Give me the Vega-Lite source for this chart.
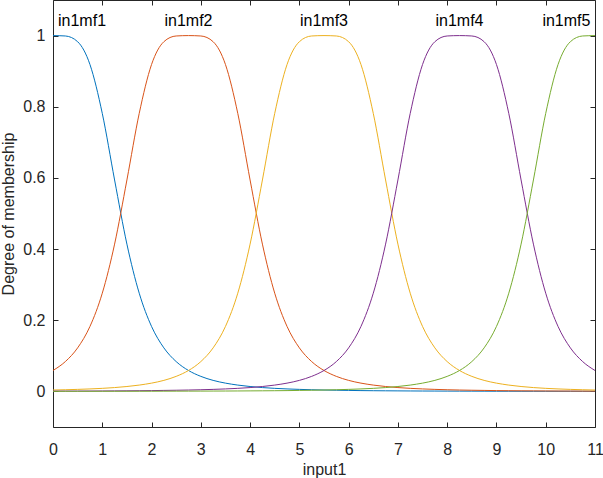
{
  "$schema": "https://vega.github.io/schema/vega-lite/v6.json",
  "width": 542,
  "height": 427,
  "autosize": "none",
  "padding": {"left": 53, "top": 0, "right": 8, "bottom": 51},
  "background": "white",
  "config": {
    "view": {"stroke": null},
    "font": "Liberation Sans",
    "axis": {
      "grid": false,
      "domainColor": "#262626",
      "tickColor": "#262626",
      "labelColor": "#262626",
      "titleColor": "#262626",
      "labelFont": "Liberation Sans",
      "titleFont": "Liberation Sans",
      "labelFontSize": 16,
      "titleFontSize": 16,
      "titleFontWeight": "normal",
      "labelFlush": false,
      "labelOverlap": false,
      "tickSize": -5,
      "tickWidth": 1,
      "domainWidth": 1
    }
  },
  "layer": [
    {
      "data": {"values": [
        {"x":0,"m":"in1mf1","v":1},{"x":0.25,"m":"in1mf1","v":0.9989},{"x":0.5,"m":"in1mf1","v":0.9828},{"x":0.75,"m":"in1mf1","v":0.9187},{"x":1,"m":"in1mf1","v":0.7814},{"x":1.25,"m":"in1mf1","v":0.5942},{"x":1.5,"m":"in1mf1","v":0.4139},{"x":1.75,"m":"in1mf1","v":0.276},{"x":2,"m":"in1mf1","v":0.1826},{"x":2.25,"m":"in1mf1","v":0.1224},{"x":2.5,"m":"in1mf1","v":0.0838},{"x":2.75,"m":"in1mf1","v":0.0588},{"x":3,"m":"in1mf1","v":0.0423},{"x":3.25,"m":"in1mf1","v":0.031},{"x":3.5,"m":"in1mf1","v":0.0233},{"x":3.75,"m":"in1mf1","v":0.0178},{"x":4,"m":"in1mf1","v":0.0138},{"x":4.25,"m":"in1mf1","v":0.0108},{"x":4.5,"m":"in1mf1","v":0.0086},{"x":4.75,"m":"in1mf1","v":0.007},{"x":5,"m":"in1mf1","v":0.0057},{"x":5.25,"m":"in1mf1","v":0.0047},{"x":5.5,"m":"in1mf1","v":0.0039},{"x":5.75,"m":"in1mf1","v":0.0033},{"x":6,"m":"in1mf1","v":0.0028},{"x":6.25,"m":"in1mf1","v":0.0023},{"x":6.5,"m":"in1mf1","v":0.002},{"x":6.75,"m":"in1mf1","v":0.0017},{"x":7,"m":"in1mf1","v":0.0015},{"x":7.25,"m":"in1mf1","v":0.0013},{"x":7.5,"m":"in1mf1","v":0.0011},{"x":7.75,"m":"in1mf1","v":0.001},{"x":8,"m":"in1mf1","v":0.0009},{"x":8.25,"m":"in1mf1","v":0.0008},{"x":8.5,"m":"in1mf1","v":0.0007},{"x":8.75,"m":"in1mf1","v":0.0006},{"x":9,"m":"in1mf1","v":0.0005},{"x":9.25,"m":"in1mf1","v":0.0005},{"x":9.5,"m":"in1mf1","v":0.0004},{"x":9.75,"m":"in1mf1","v":0.0004},{"x":10,"m":"in1mf1","v":0.0004},{"x":10.25,"m":"in1mf1","v":0.0003},{"x":10.5,"m":"in1mf1","v":0.0003},{"x":10.75,"m":"in1mf1","v":0.0003},{"x":11,"m":"in1mf1","v":0.0002},
        {"x":0,"m":"in1mf2","v":0.0588},{"x":0.25,"m":"in1mf2","v":0.0838},{"x":0.5,"m":"in1mf2","v":0.1224},{"x":0.75,"m":"in1mf2","v":0.1826},{"x":1,"m":"in1mf2","v":0.276},{"x":1.25,"m":"in1mf2","v":0.4139},{"x":1.5,"m":"in1mf2","v":0.5942},{"x":1.75,"m":"in1mf2","v":0.7814},{"x":2,"m":"in1mf2","v":0.9187},{"x":2.25,"m":"in1mf2","v":0.9828},{"x":2.5,"m":"in1mf2","v":0.9989},{"x":2.75,"m":"in1mf2","v":1},{"x":3,"m":"in1mf2","v":0.9989},{"x":3.25,"m":"in1mf2","v":0.9828},{"x":3.5,"m":"in1mf2","v":0.9187},{"x":3.75,"m":"in1mf2","v":0.7814},{"x":4,"m":"in1mf2","v":0.5942},{"x":4.25,"m":"in1mf2","v":0.4139},{"x":4.5,"m":"in1mf2","v":0.276},{"x":4.75,"m":"in1mf2","v":0.1826},{"x":5,"m":"in1mf2","v":0.1224},{"x":5.25,"m":"in1mf2","v":0.0838},{"x":5.5,"m":"in1mf2","v":0.0588},{"x":5.75,"m":"in1mf2","v":0.0423},{"x":6,"m":"in1mf2","v":0.031},{"x":6.25,"m":"in1mf2","v":0.0233},{"x":6.5,"m":"in1mf2","v":0.0178},{"x":6.75,"m":"in1mf2","v":0.0138},{"x":7,"m":"in1mf2","v":0.0108},{"x":7.25,"m":"in1mf2","v":0.0086},{"x":7.5,"m":"in1mf2","v":0.007},{"x":7.75,"m":"in1mf2","v":0.0057},{"x":8,"m":"in1mf2","v":0.0047},{"x":8.25,"m":"in1mf2","v":0.0039},{"x":8.5,"m":"in1mf2","v":0.0033},{"x":8.75,"m":"in1mf2","v":0.0028},{"x":9,"m":"in1mf2","v":0.0023},{"x":9.25,"m":"in1mf2","v":0.002},{"x":9.5,"m":"in1mf2","v":0.0017},{"x":9.75,"m":"in1mf2","v":0.0015},{"x":10,"m":"in1mf2","v":0.0013},{"x":10.25,"m":"in1mf2","v":0.0011},{"x":10.5,"m":"in1mf2","v":0.001},{"x":10.75,"m":"in1mf2","v":0.0009},{"x":11,"m":"in1mf2","v":0.0008},
        {"x":0,"m":"in1mf3","v":0.0039},{"x":0.25,"m":"in1mf3","v":0.0047},{"x":0.5,"m":"in1mf3","v":0.0057},{"x":0.75,"m":"in1mf3","v":0.007},{"x":1,"m":"in1mf3","v":0.0086},{"x":1.25,"m":"in1mf3","v":0.0108},{"x":1.5,"m":"in1mf3","v":0.0138},{"x":1.75,"m":"in1mf3","v":0.0178},{"x":2,"m":"in1mf3","v":0.0233},{"x":2.25,"m":"in1mf3","v":0.031},{"x":2.5,"m":"in1mf3","v":0.0423},{"x":2.75,"m":"in1mf3","v":0.0588},{"x":3,"m":"in1mf3","v":0.0838},{"x":3.25,"m":"in1mf3","v":0.1224},{"x":3.5,"m":"in1mf3","v":0.1826},{"x":3.75,"m":"in1mf3","v":0.276},{"x":4,"m":"in1mf3","v":0.4139},{"x":4.25,"m":"in1mf3","v":0.5942},{"x":4.5,"m":"in1mf3","v":0.7814},{"x":4.75,"m":"in1mf3","v":0.9187},{"x":5,"m":"in1mf3","v":0.9828},{"x":5.25,"m":"in1mf3","v":0.9989},{"x":5.5,"m":"in1mf3","v":1},{"x":5.75,"m":"in1mf3","v":0.9989},{"x":6,"m":"in1mf3","v":0.9828},{"x":6.25,"m":"in1mf3","v":0.9187},{"x":6.5,"m":"in1mf3","v":0.7814},{"x":6.75,"m":"in1mf3","v":0.5942},{"x":7,"m":"in1mf3","v":0.4139},{"x":7.25,"m":"in1mf3","v":0.276},{"x":7.5,"m":"in1mf3","v":0.1826},{"x":7.75,"m":"in1mf3","v":0.1224},{"x":8,"m":"in1mf3","v":0.0838},{"x":8.25,"m":"in1mf3","v":0.0588},{"x":8.5,"m":"in1mf3","v":0.0423},{"x":8.75,"m":"in1mf3","v":0.031},{"x":9,"m":"in1mf3","v":0.0233},{"x":9.25,"m":"in1mf3","v":0.0178},{"x":9.5,"m":"in1mf3","v":0.0138},{"x":9.75,"m":"in1mf3","v":0.0108},{"x":10,"m":"in1mf3","v":0.0086},{"x":10.25,"m":"in1mf3","v":0.007},{"x":10.5,"m":"in1mf3","v":0.0057},{"x":10.75,"m":"in1mf3","v":0.0047},{"x":11,"m":"in1mf3","v":0.0039},
        {"x":0,"m":"in1mf4","v":0.0008},{"x":0.25,"m":"in1mf4","v":0.0009},{"x":0.5,"m":"in1mf4","v":0.001},{"x":0.75,"m":"in1mf4","v":0.0011},{"x":1,"m":"in1mf4","v":0.0013},{"x":1.25,"m":"in1mf4","v":0.0015},{"x":1.5,"m":"in1mf4","v":0.0017},{"x":1.75,"m":"in1mf4","v":0.002},{"x":2,"m":"in1mf4","v":0.0023},{"x":2.25,"m":"in1mf4","v":0.0028},{"x":2.5,"m":"in1mf4","v":0.0033},{"x":2.75,"m":"in1mf4","v":0.0039},{"x":3,"m":"in1mf4","v":0.0047},{"x":3.25,"m":"in1mf4","v":0.0057},{"x":3.5,"m":"in1mf4","v":0.007},{"x":3.75,"m":"in1mf4","v":0.0086},{"x":4,"m":"in1mf4","v":0.0108},{"x":4.25,"m":"in1mf4","v":0.0138},{"x":4.5,"m":"in1mf4","v":0.0178},{"x":4.75,"m":"in1mf4","v":0.0233},{"x":5,"m":"in1mf4","v":0.031},{"x":5.25,"m":"in1mf4","v":0.0423},{"x":5.5,"m":"in1mf4","v":0.0588},{"x":5.75,"m":"in1mf4","v":0.0838},{"x":6,"m":"in1mf4","v":0.1224},{"x":6.25,"m":"in1mf4","v":0.1826},{"x":6.5,"m":"in1mf4","v":0.276},{"x":6.75,"m":"in1mf4","v":0.4139},{"x":7,"m":"in1mf4","v":0.5942},{"x":7.25,"m":"in1mf4","v":0.7814},{"x":7.5,"m":"in1mf4","v":0.9187},{"x":7.75,"m":"in1mf4","v":0.9828},{"x":8,"m":"in1mf4","v":0.9989},{"x":8.25,"m":"in1mf4","v":1},{"x":8.5,"m":"in1mf4","v":0.9989},{"x":8.75,"m":"in1mf4","v":0.9828},{"x":9,"m":"in1mf4","v":0.9187},{"x":9.25,"m":"in1mf4","v":0.7814},{"x":9.5,"m":"in1mf4","v":0.5942},{"x":9.75,"m":"in1mf4","v":0.4139},{"x":10,"m":"in1mf4","v":0.276},{"x":10.25,"m":"in1mf4","v":0.1826},{"x":10.5,"m":"in1mf4","v":0.1224},{"x":10.75,"m":"in1mf4","v":0.0838},{"x":11,"m":"in1mf4","v":0.0588},
        {"x":0,"m":"in1mf5","v":0.0002},{"x":0.25,"m":"in1mf5","v":0.0003},{"x":0.5,"m":"in1mf5","v":0.0003},{"x":0.75,"m":"in1mf5","v":0.0003},{"x":1,"m":"in1mf5","v":0.0004},{"x":1.25,"m":"in1mf5","v":0.0004},{"x":1.5,"m":"in1mf5","v":0.0004},{"x":1.75,"m":"in1mf5","v":0.0005},{"x":2,"m":"in1mf5","v":0.0005},{"x":2.25,"m":"in1mf5","v":0.0006},{"x":2.5,"m":"in1mf5","v":0.0007},{"x":2.75,"m":"in1mf5","v":0.0008},{"x":3,"m":"in1mf5","v":0.0009},{"x":3.25,"m":"in1mf5","v":0.001},{"x":3.5,"m":"in1mf5","v":0.0011},{"x":3.75,"m":"in1mf5","v":0.0013},{"x":4,"m":"in1mf5","v":0.0015},{"x":4.25,"m":"in1mf5","v":0.0017},{"x":4.5,"m":"in1mf5","v":0.002},{"x":4.75,"m":"in1mf5","v":0.0023},{"x":5,"m":"in1mf5","v":0.0028},{"x":5.25,"m":"in1mf5","v":0.0033},{"x":5.5,"m":"in1mf5","v":0.0039},{"x":5.75,"m":"in1mf5","v":0.0047},{"x":6,"m":"in1mf5","v":0.0057},{"x":6.25,"m":"in1mf5","v":0.007},{"x":6.5,"m":"in1mf5","v":0.0086},{"x":6.75,"m":"in1mf5","v":0.0108},{"x":7,"m":"in1mf5","v":0.0138},{"x":7.25,"m":"in1mf5","v":0.0178},{"x":7.5,"m":"in1mf5","v":0.0233},{"x":7.75,"m":"in1mf5","v":0.031},{"x":8,"m":"in1mf5","v":0.0423},{"x":8.25,"m":"in1mf5","v":0.0588},{"x":8.5,"m":"in1mf5","v":0.0838},{"x":8.75,"m":"in1mf5","v":0.1224},{"x":9,"m":"in1mf5","v":0.1826},{"x":9.25,"m":"in1mf5","v":0.276},{"x":9.5,"m":"in1mf5","v":0.4139},{"x":9.75,"m":"in1mf5","v":0.5942},{"x":10,"m":"in1mf5","v":0.7814},{"x":10.25,"m":"in1mf5","v":0.9187},{"x":10.5,"m":"in1mf5","v":0.9828},{"x":10.75,"m":"in1mf5","v":0.9989},{"x":11,"m":"in1mf5","v":1}
      ]},
      "mark": {"type": "line", "interpolate": "monotone", "strokeWidth": 1, "clip": true},
      "encoding": {
        "x": {"field": "x", "type": "quantitative", "scale": {"domain": [0, 11], "nice": false, "zero": false},
          "axis": {"orient": "bottom", "values": [0,1,2,3,4,5,6,7,8,9,10,11], "title": "input1", "labelPadding": 19, "titlePadding": 4}},
        "y": {"field": "v", "type": "quantitative", "scale": {"domain": [-0.1, 1.1], "nice": false, "zero": false},
          "axis": {"orient": "left", "values": [0,0.2,0.4,0.6,0.8,1], "format": "~g", "title": "Degree of membership", "labelPadding": 13, "titlePadding": 6}},
        "color": {"field": "m", "type": "nominal",
          "scale": {"domain": ["in1mf1","in1mf2","in1mf3","in1mf4","in1mf5"], "range": ["#0072BD","#D95319","#EDB120","#7E2F8E","#77AC30"]},
          "legend": null}
      }
    },
    {
      "data": {"values": [
        {"lx": 0.589, "ly": 1.027, "t": "in1mf1"},
        {"lx": 2.75, "ly": 1.027, "t": "in1mf2"},
        {"lx": 5.5, "ly": 1.027, "t": "in1mf3"},
        {"lx": 8.25, "ly": 1.027, "t": "in1mf4"},
        {"lx": 10.42, "ly": 1.027, "t": "in1mf5"}
      ]},
      "mark": {"type": "text", "align": "center", "baseline": "alphabetic", "font": "Liberation Sans", "fontSize": 16, "color": "#000000"},
      "encoding": {
        "x": {"field": "lx", "type": "quantitative",
          "axis": {"orient": "top", "values": [0,1,2,3,4,5,6,7,8,9,10,11], "labels": false, "title": null}},
        "y": {"field": "ly", "type": "quantitative",
          "axis": {"orient": "right", "values": [0,0.2,0.4,0.6,0.8,1], "labels": false, "title": null}},
        "text": {"field": "t", "type": "nominal"}
      }
    }
  ],
  "resolve": {"axis": {"x": "independent", "y": "independent"}}
}
